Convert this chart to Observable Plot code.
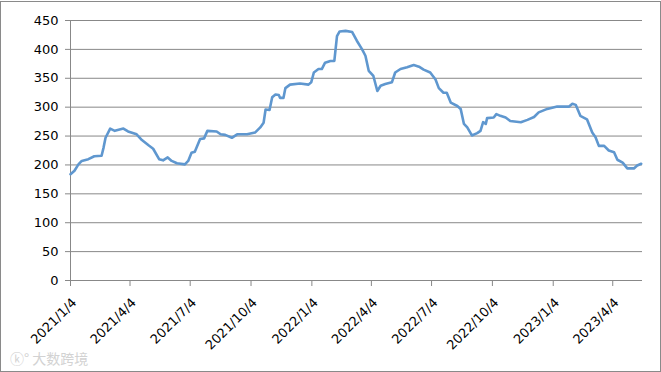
<!DOCTYPE html>
<html>
<head>
<meta charset="utf-8">
<script src="https://cdn.jsdelivr.net/npm/d3@7"></script>
<script src="https://cdn.jsdelivr.net/npm/@observablehq/plot@0.6"></script>
<style>
  html, body { margin: 0; padding: 0; background: #fff; }
  #wrap { position: relative; width: 661px; height: 372px; overflow: hidden; }
  #border { position: absolute; left: 0; top: 1px; width: 661px; height: 371px; box-sizing: border-box; border: 1px solid #8a8a8a; pointer-events: none; }
  #wm { position: absolute; left: 10px; top: 348px; font-family: "Noto Sans CJK SC", sans-serif; font-size: 14px; color: #d2d2d2; letter-spacing: 0px; }
</style>
</head>
<body>
<div id="wrap">
  <div id="chart"></div>
  <div id="border"></div>
  <div id="wm">ⓚ° 大数跨境</div>
</div>
<script>
const dates = [
  "2021-01-04","2021-01-10","2021-01-16","2021-01-21","2021-01-31","2021-02-09","2021-02-20","2021-02-23","2021-02-26","2021-03-05",
  "2021-03-12","2021-03-25","2021-04-01","2021-04-14","2021-04-22","2021-05-02","2021-05-09","2021-05-18","2021-05-24","2021-05-31",
  "2021-06-06","2021-06-14","2021-06-26","2021-07-01","2021-07-06","2021-07-11","2021-07-19","2021-07-25","2021-07-30","2021-08-13",
  "2021-08-19","2021-08-26","2021-09-05","2021-09-13","2021-09-28","2021-10-10","2021-10-18","2021-10-23","2021-10-26","2021-11-01",
  "2021-11-05","2021-11-10","2021-11-15","2021-11-17","2021-11-22","2021-11-25","2021-12-02","2021-12-17","2021-12-30","2022-01-03",
  "2022-01-07","2022-01-14","2022-01-19","2022-01-24","2022-02-01","2022-02-07","2022-02-11","2022-02-15","2022-02-24","2022-03-06",
  "2022-03-13","2022-03-21","2022-03-26","2022-03-31","2022-04-07","2022-04-13","2022-04-18","2022-04-25","2022-05-05","2022-05-10",
  "2022-05-18","2022-05-28","2022-06-07","2022-06-15","2022-06-22","2022-07-02","2022-07-10","2022-07-15","2022-07-22","2022-07-27",
  "2022-08-02","2022-08-12","2022-08-17","2022-08-22","2022-08-27","2022-09-03","2022-09-11","2022-09-16","2022-09-20","2022-09-24",
  "2022-09-26","2022-10-06","2022-10-10","2022-10-16","2022-10-24","2022-10-31","2022-11-16","2022-11-26","2022-12-06","2022-12-13",
  "2022-12-26","2023-01-10","2023-01-28","2023-02-02","2023-02-07","2023-02-14","2023-02-24","2023-03-04","2023-03-09","2023-03-14",
  "2023-03-22","2023-03-29","2023-04-06","2023-04-11","2023-04-19","2023-04-26","2023-05-06","2023-05-11","2023-05-17"
];
const values = [
  184,190,201,207,210,215,216,230,247,263,
  259,263,258,253,243,234,228,210,208,213,
  207,203,201,207,221,223,245,246,259,258,
  253,252,247,253,253,256,265,273,296,295,
  317,322,321,316,316,333,339,341,339,343,
  360,366,366,377,380,380,423,431,432,430,
  415,400,389,363,354,328,337,340,343,360,
  366,369,373,370,365,360,348,333,325,325,
  308,302,297,271,265,251,255,259,274,271,
  281,282,288,285,282,276,274,278,283,291,
  297,301,301,306,304,285,279,256,248,233,
  233,225,222,209,204,194,194,199,202
];
const yTicks = [0, 50, 100, 150, 200, 250, 300, 350, 400, 450];
const xTickDates = ["2021-01-04","2021-04-04","2021-07-04","2021-10-04","2022-01-04","2022-04-04","2022-07-04","2022-10-04","2023-01-04","2023-04-04"];
const xTickLabels = ["2021/1/4","2021/4/4","2021/7/4","2021/10/4","2022/1/4","2022/4/4","2022/7/4","2022/10/4","2023/1/4","2023/4/4"];
const xDomain = ["2021-01-04", "2023-05-19"];

const data = dates.map((d, i) => ({date: new Date(d), value: values[i]}));
const tickDates = xTickDates.map(d => new Date(d));

const chart = Plot.plot({
  width: 661,
  height: 372,
  marginLeft: 70,
  marginRight: 19,
  marginTop: 20,
  marginBottom: 92,
  style: {fontFamily: "DejaVu Sans", fontSize: "13px", color: "#000", background: "transparent"},
  x: {type: "utc", domain: xDomain.map(d => new Date(d))},
  y: {domain: [0, 450]},
  marks: [
    Plot.gridY(yTicks, {stroke: "#888", strokeOpacity: 1}),
    Plot.ruleX([new Date(xDomain[0])], {stroke: "#888"}),
    Plot.axisY({ticks: yTicks, tickSize: 5, tickPadding: 7, stroke: "#888", fill: "#000", label: null, fontSize: 13}),
    Plot.axisX({ticks: tickDates, tickFormat: () => "", tickSize: 6, stroke: "#888", label: null}),
    Plot.axisX({ticks: tickDates, tickFormat: (d, i) => xTickLabels[i], tickRotate: -45, tickSize: 0, tickPadding: 20, dx: 4, fill: "#000", label: null, fontSize: 13}),
    Plot.line(data, {x: "date", y: "value", stroke: "#5f97cf", strokeWidth: 2.6})
  ]
});
document.getElementById("chart").appendChild(chart);
</script>
</body>
</html>
